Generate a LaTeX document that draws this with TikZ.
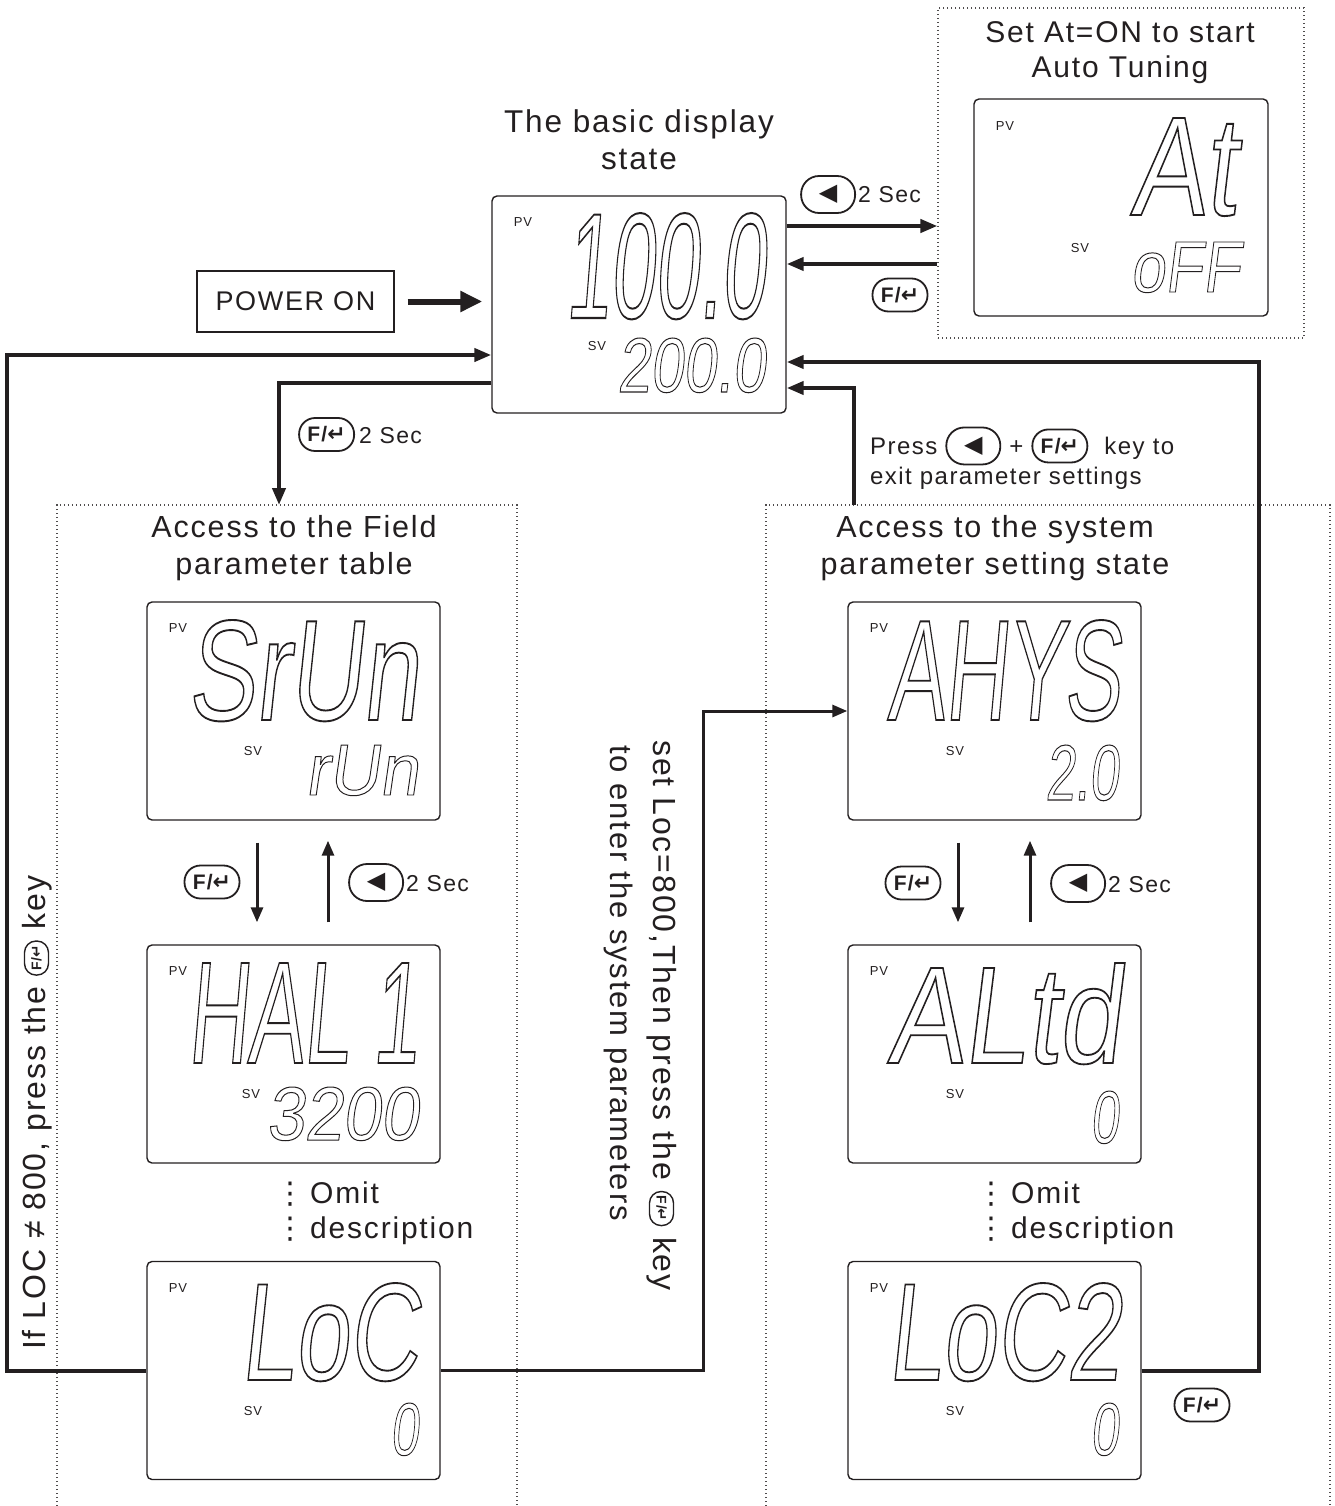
\documentclass[tikz,border=0pt]{standalone}
\usepackage{fontspec}
\usepackage{graphicx}
\usetikzlibrary{arrows.meta}
\setmainfont{Liberation Sans}[LetterSpace=6]
\newfontfamily\symf{DejaVu Sans}
\newfontfamily\lcdfont{Liberation Sans}[FakeSlant=0.15]
\definecolor{ink}{HTML}{231F20}
\newsavebox\fkbox
\newsavebox\lkbox
\newsavebox\fkvbox
\newcommand\lcd[3]{\resizebox{#1pt}{#2pt}{\lcdfont\fontsize{60}{60}\selectfont\special{pdf:literal direct 1 Tr 0.8 w}#3\special{pdf:literal direct 0 Tr}}}
\newcommand\keyshape[5]{\begin{pgfpicture}\pgfsetbaseline{-8.5pt}\pgfsetlinewidth{#4}\pgfsetstrokecolor{ink}\pgfsetcornersarced{\pgfpoint{#3}{#3}}\pgfpathrectangle{\pgfpoint{-0.5*#1}{-0.5*#2}}{\pgfpoint{#1}{#2}}\pgfusepath{stroke}\pgftext{\color{ink}#5}\end{pgfpicture}}
\begin{document}
\sbox\fkbox{\keyshape{55pt}{33pt}{16pt}{1.8pt}{\fontsize{21}{21}\selectfont\bfseries F/{\symf\fontsize{22}{22}\selectfont ↵}}}%
\sbox\lkbox{\keyshape{54pt}{37pt}{18pt}{1.8pt}{\symf\fontsize{24}{24}\selectfont ◀}}%
\sbox\fkvbox{\keyshape{34pt}{24pt}{11.5pt}{1.4pt}{\fontsize{14}{14}\selectfont\bfseries F/{\symf\fontsize{15}{15}\selectfont ↵}}}%
\begin{tikzpicture}[x=1pt,y=-1pt,
  every node/.style={text=ink, inner sep=0pt},
  disp/.style={draw=ink,line width=1.4pt,rounded corners=5pt,minimum width=293pt,minimum height=218pt},
  dotbox/.style={draw=ink!80,line width=1.2pt,dash pattern=on 1.4pt off 2.6pt},
  conn/.style={draw=ink,line width=4pt,-{Triangle[length=17pt,width=13pt]}},
  conn3/.style={draw=ink,line width=3pt,-{Triangle[length=15pt,width=12pt]}},
  pvlab/.style={font=\fontsize{13}{13}\selectfont},
  lbl/.style={font=\fontsize{23}{30}\selectfont},
  ttl/.style={font=\fontsize{30.5}{37}\selectfont, align=center},
  omt/.style={anchor=base west, font=\fontsize{30}{30}\selectfont},
  lcdt/.style={anchor=base west}
]
\useasboundingbox (0,0) rectangle (1334,1506);

% dotted groups
\node[dotbox, minimum width=366pt, minimum height=330pt] (atbox) at (1121,173) {};
\draw[dotbox] (57,1506) -- (57,505) -- (517,505) -- (517,1506);
\draw[dotbox] (766,1506) -- (766,505) -- (1330,505) -- (1330,1506);
\coordinate (fieldtop) at (279,505);
\coordinate (systop) at (854,505);

% titles
\node[ttl, font=\fontsize{31.5}{37}\selectfont] (t1) at (639,140) {The basic display\\state};
\node[ttl, font=\fontsize{30}{35}\selectfont] (t2) at (1120,53) {Set At=ON to start\\Auto Tuning};
\node[ttl] (t3) at (294,548) {Access to the Field\\parameter table};
\node[ttl] (t4) at (995,548) {Access to the system\\parameter setting state};

% displays
\node[disp, minimum width=294pt, minimum height=217pt] (main) at (639,304.5) {};
\node[disp, minimum width=294pt, minimum height=217pt] (atd) at (1121,207.5) {};
\node[disp] (srun) at (293.5,711) {};
\node[disp] (hal) at (293.5,1054) {};
\node[disp] (loc) at (293.5,1370.5) {};
\node[disp] (ahys) at (994.5,711) {};
\node[disp] (altd) at (994.5,1054) {};
\node[disp] (loc2) at (994.5,1370.5) {};

\node[draw=ink,line width=1.2pt,minimum width=197pt,minimum height=61pt,font=\fontsize{27}{27}\selectfont] (pon) at (295.5,301.5) {POWER ON};

% PV / SV labels
\node[pvlab] (pv1) at (523,222) {PV};  \node[pvlab] (sv1) at (597,346) {SV};
\node[pvlab] (pv2) at (1005,126) {PV}; \node[pvlab] (sv2) at (1080,248) {SV};
\node[pvlab] (pv3) at (178,628) {PV};  \node[pvlab] (sv3) at (253,751) {SV};
\node[pvlab] (pv4) at (178,971) {PV};  \node[pvlab] (sv4) at (251,1094) {SV};
\node[pvlab] (pv5) at (178,1288) {PV}; \node[pvlab] (sv5) at (253,1411) {SV};
\node[pvlab] (pv6) at (879,628) {PV};  \node[pvlab] (sv6) at (955,751) {SV};
\node[pvlab] (pv7) at (879,971) {PV};  \node[pvlab] (sv7) at (955,1094) {SV};
\node[pvlab] (pv8) at (879,1288) {PV}; \node[pvlab] (sv8) at (955,1411) {SV};

% LCD readings
\node[lcdt] (m1) at (565,318) {\lcd{200}{105}{100.0}};
\node[lcdt] (m2) at (617,392) {\lcd{148}{54}{200.0}};
\node[lcdt] (a1) at (1130,215) {\lcd{105}{97}{At}};
\node[lcdt] (a2) at (1130,292) {\lcd{110}{50}{oFF}};
\node[lcdt] (s1) at (187,720) {\lcd{231}{100}{SrUn}};
\node[lcdt] (s2) at (305,795) {\lcd{113}{50}{rUn}};
\node[lcdt] (h1) at (187,1063) {\lcd{231}{100}{HAL 1}};
\node[lcdt] (h2) at (266,1140) {\lcd{152}{53}{3200}};
\node[lcdt] (l1) at (240,1380) {\lcd{178}{97}{LoC}};
\node[lcdt] (l2) at (390,1455) {\lcd{28}{52}{0}};
\node[lcdt] (y1) at (887,720) {\lcd{233}{100}{AHYS}};
\node[lcdt] (y2) at (1045,800) {\lcd{73}{55}{2.0}};
\node[lcdt] (d1) at (887,1063) {\lcd{233}{100}{ALtd}};
\node[lcdt] (d2) at (1090,1143) {\lcd{28}{52}{0}};
\node[lcdt] (c1) at (887,1380) {\lcd{233}{97}{LoC2}};
\node[lcdt] (c2) at (1090,1455) {\lcd{28}{52}{0}};

% key labels
\node[lbl, anchor=base west] (k1) at (800,203) {\usebox\lkbox\kern2pt 2 Sec};
\node (k2) at (900,295) {\usebox\fkbox};
\node[lbl, anchor=base west] (k3) at (298,443) {\usebox\fkbox\kern4pt 2 Sec};
\node (k4) at (212,882) {\usebox\fkbox};
\node[lbl, anchor=base west] (k5) at (348,891) {\usebox\lkbox\kern2pt 2 Sec};
\node (k6) at (913,883) {\usebox\fkbox};
\node[lbl, anchor=base west] (k7) at (1050,892) {\usebox\lkbox\kern2pt 2 Sec};
\node (k8) at (1202,1405) {\usebox\fkbox};
\node[lbl, font=\fontsize{24}{30}\selectfont, anchor=west, align=left] (press) at (870,458) {Press \usebox\lkbox\ + \usebox\fkbox\ \ key to\\exit parameter settings};

% omit description
\node[omt] (om1a) at (275,1203) {{\symf ⋮}\kern5pt Omit};
\node[omt] (om1b) at (275,1238) {{\symf ⋮}\kern5pt description};
\node[omt] (om2a) at (976,1203) {{\symf ⋮}\kern5pt Omit};
\node[omt] (om2b) at (976,1238) {{\symf ⋮}\kern5pt description};

% vertical texts
\node[font=\fontsize{32}{32}\selectfont, rotate=90, anchor=base west] (vl) at (45,1350) {If LOC ≠ 800, press the \usebox\fkvbox\ key};
\node[font=\fontsize{32}{32}\selectfont, rotate=-90, anchor=base west] (vm1) at (653,740) {set Loc=800,Then press the \usebox\fkvbox\ key};
\node[font=\fontsize{31}{31}\selectfont, rotate=-90, anchor=base west] (vm2) at (610,745) {to enter the system parameters};

% connectors
\draw[draw=ink,line width=6pt,-{Triangle[length=22pt,width=20pt]}] ([xshift=13pt]pon.east) -- ([xshift=-9pt]main.west |- pon.east);
\draw[conn] ([yshift=78.5pt]main.east) -- ([yshift=78.5pt]main.east -| atbox.west);
\draw[conn] ([yshift=40.5pt]main.east -| atbox.west) -- ([yshift=40.5pt]main.east);
\draw[conn] (loc.west) -- ++(-139,0) |- ([yshift=-50.5pt]main.west);
\draw[conn] ([yshift=-78.5pt]main.west) -| (fieldtop);
\draw[conn3] (loc.east) -- (703,1370.5) |- (ahys.west);
\draw[conn] (loc2.east) -- (1259,1370.5) |- ([yshift=-57.5pt]main.east);
\draw[conn] (systop) |- ([yshift=-83.5pt]main.east);
\draw[conn3] ([xshift=-36.5pt,yshift=-22pt]srun.south) -- ([xshift=-36.5pt,yshift=22pt]hal.north);
\draw[conn3] ([xshift=34.5pt,yshift=22pt]hal.north) -- ([xshift=34.5pt,yshift=-20pt]srun.south);
\draw[conn3] ([xshift=-36.5pt,yshift=-22pt]ahys.south) -- ([xshift=-36.5pt,yshift=22pt]altd.north);
\draw[conn3] ([xshift=35.5pt,yshift=22pt]altd.north) -- ([xshift=35.5pt,yshift=-20pt]ahys.south);
\end{tikzpicture}
\end{document}
